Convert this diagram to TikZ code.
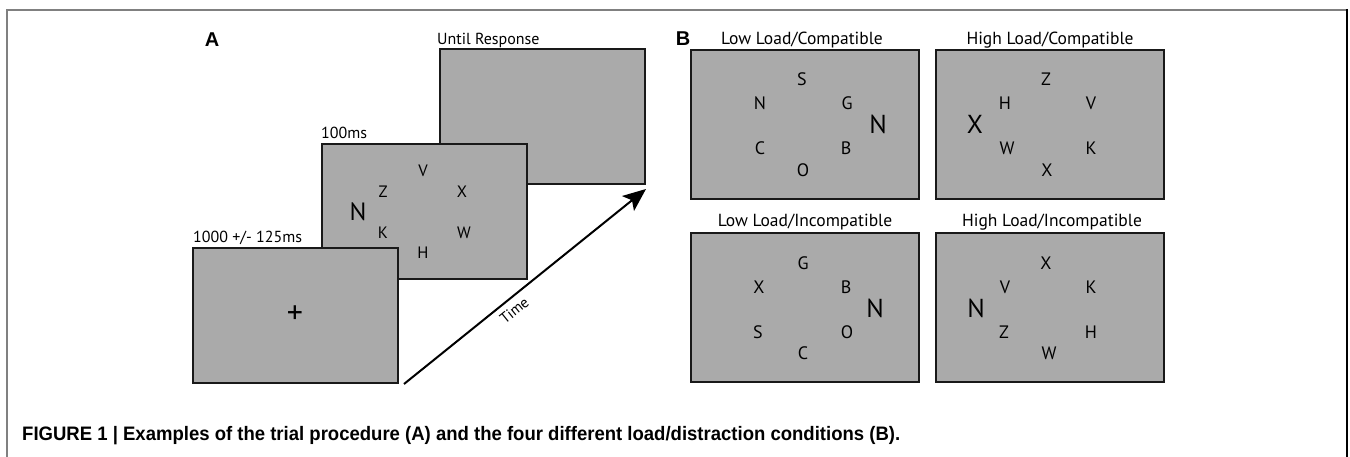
\documentclass[tikz,border=0pt]{standalone}
\usepackage{fontspec}
\usepackage{graphicx}
\setmainfont{PT Sans}
\newfontfamily\capfont{Liberation Sans}
\usetikzlibrary{arrows.meta}
\definecolor{scr}{RGB}{170,170,170}
\definecolor{edge}{RGB}{25,25,25}
\definecolor{framegray}{RGB}{128,128,128}
\begin{document}
\begin{tikzpicture}[x=1pt,y=-1pt,
  screen/.style={draw=edge, fill=scr, line width=2pt, inner sep=0pt, minimum width=205pt, minimum height=135pt},
  bscreen/.style={draw=edge, fill=scr, line width=2pt, inner sep=0pt, minimum width=228pt, minimum height=149pt},
  lbl/.style={inner sep=0pt, font=\fontsize{16}{19}\selectfont},
  ttl/.style={inner sep=0pt, font=\fontsize{17.5}{21}\selectfont},
  ltr/.style={inner sep=0pt, font=\fontsize{16.5}{19}\selectfont},
  bigltr/.style={inner sep=0pt, font=\fontsize{25}{30}\selectfont},
  bltr/.style={inner sep=0pt, font=\fontsize{18}{21}\selectfont},
  bbigltr/.style={inner sep=0pt, font=\fontsize{26}{31}\selectfont},
  panel/.style={inner sep=0pt, font=\capfont\bfseries\fontsize{20}{24}\selectfont}]
\useasboundingbox (0,0) rectangle (1350,457);
\fill[white] (0,0) rectangle (1350,457);
% frame
\draw[framegray, line width=1.2pt] (7,457) -- (7,10);
\draw[framegray, line width=2pt] (6.4,10) -- (1347.8,10);
\draw[black, line width=1.6pt] (1347,9) -- (1347,457);

% ---------- Panel A ----------
\node[panel, anchor=base] (labA) at (212,47) {A};
\node[screen] (s3) at (542.5,116.5) {};
\node[screen] (s2) at (424.5,211.5) {};
\node[screen] (s1) at (295.5,315.5) {};
\node[lbl, anchor=base west] (t3) at (437,45) {Until Response};
\node[lbl, anchor=base west] (t2) at (321,139) {100ms};
\node[lbl, anchor=base west] (t1) at (193,243) {1000 +/- 125ms};
\node[inner sep=0pt, font=\fontsize{32}{38}\selectfont] (plus) at (295,315) {+};
\node[ltr] (aV) at (423,171) {V};
\node[ltr] (aZ) at (383,192) {Z};
\node[ltr] (aX) at (462,192) {X};
\node[bigltr] (aN) at (358,212) {N};
\node[ltr] (aK) at (383,233) {K};
\node[ltr] (aW) at (464,233) {W};
\node[ltr] (aH) at (423,253) {H};
\coordinate (tstart) at (404,384);
\coordinate (tend) at (646,189);
\draw[line width=2pt, -{Stealth[length=23pt,width=19pt,inset=5pt]}] (tstart) -- (tend)
  node[sloped, anchor=north, pos=0.425, inner sep=5.5pt, font=\fontsize{15}{18}\selectfont] (time) {Time};

% ---------- Panel B ----------
\node[panel, anchor=base] (labB) at (683,46) {B};
\node[bscreen] (lc) at (805,124.5) {};
\node[bscreen] (hc) at (1050,124.5) {};
\node[bscreen] (li) at (805,307.5) {};
\node[bscreen] (hi) at (1050,307.5) {};
\node[ttl, anchor=base] (tlc) at (802,45) {Low Load/Compatible};
\node[ttl, anchor=base] (thc) at (1050,45) {High Load/Compatible};
\node[ttl, anchor=base] (tli) at (805,227) {Low Load/Incompatible};
\node[ttl, anchor=base] (thi) at (1052,227) {High Load/Incompatible};
% LC
\node[bltr] (lc1) at (802,79) {S};
\node[bltr] (lc2) at (760,103) {N};
\node[bltr] (lc3) at (847,103) {G};
\node[bbigltr] (lc4) at (878,124) {N};
\node[bltr] (lc5) at (760,148) {C};
\node[bltr] (lc6) at (846,148) {B};
\node[bltr] (lc7) at (803,170) {O};
% HC
\node[bltr] (hc1) at (1046,79) {Z};
\node[bltr] (hc2) at (1005,103) {H};
\node[bltr] (hc3) at (1091,103) {V};
\node[bbigltr] (hc4) at (975,124) {X};
\node[bltr] (hc5) at (1007,148) {W};
\node[bltr] (hc6) at (1091,148) {K};
\node[bltr] (hc7) at (1047,170) {X};
% LI
\node[bltr] (li1) at (803,263) {G};
\node[bltr] (li2) at (759,287) {X};
\node[bltr] (li3) at (846,287) {B};
\node[bbigltr] (li4) at (875,308) {N};
\node[bltr] (li5) at (758,332) {S};
\node[bltr] (li6) at (847,332) {O};
\node[bltr] (li7) at (803,353) {C};
% HI
\node[bltr] (hi1) at (1046,263) {X};
\node[bltr] (hi2) at (1005,287) {V};
\node[bltr] (hi3) at (1091,287) {K};
\node[bbigltr] (hi4) at (976,308) {N};
\node[bltr] (hi5) at (1004,332) {Z};
\node[bltr] (hi6) at (1091,332) {H};
\node[bltr] (hi7) at (1049,353) {W};

% ---------- Caption ----------
\node[inner sep=0pt, anchor=base west, font=\capfont\bfseries\fontsize{19.5}{23}\selectfont] (cap) at (22,440)
  {\resizebox{878pt}{\height}{FIGURE 1 | Examples of the trial procedure (A) and the four different load/distraction conditions (B).}};
\end{tikzpicture}
\end{document}
